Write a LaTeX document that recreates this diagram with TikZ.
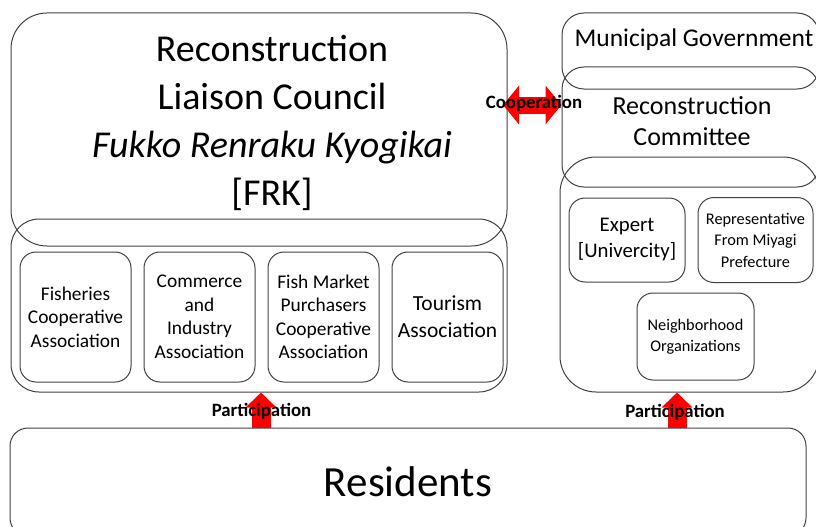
\documentclass[tikz,border=0pt]{standalone}
\usepackage{fontspec}
\setmainfont{Carlito}
\usepackage{tikz}
\usetikzlibrary{shapes.geometric, arrows}
\usetikzlibrary{arrows.meta}
\definecolor{linegray}{HTML}{404040}
\tikzstyle{panel} = [rectangle, draw=linegray, line width=1pt, inner sep=0pt]
\tikzstyle{member} = [rectangle, rounded corners=16pt, draw=linegray, line width=1pt, minimum width=111pt, minimum height=130pt, inner sep=0pt, text centered, align=center, font=\fontsize{19.4}{23.5}\selectfont]
\tikzstyle{tag} = [font=\fontsize{18.8}{22}\selectfont\bfseries]
\tikzstyle{redarrow} = [red, line width=19pt, -{Triangle[length=15pt,width=30pt]}]

\begin{document}
\begin{tikzpicture}[x=1pt, y=-1pt, node distance=124pt]
\useasboundingbox (0,0) rectangle (816,527);

% council and its member associations
\node (frk) [panel, rounded corners=36pt, minimum width=496pt, minimum height=233pt] at (259,129.5) {};
\node (frktext) [align=center, font=\fontsize{38}{48}\selectfont] at (272,123) {Reconstruction\\Liaison Council\\\textit{Fukko Renraku Kyogikai}\\ {[FRK]}};
\node (assoc) [panel, rounded corners=28pt, minimum width=496pt, minimum height=173pt] at (259,305.5) {};
\node (fish) [member] at (75.5,317) {Fisheries\\Cooperative\\Association};
\node (comm) [member, right of=fish] {Commerce\\and\\Industry\\Association};
\node (market) [member, right of=comm] {Fish Market\\Purchasers\\Cooperative\\Association};
\node (tour) [member, right of=market, font=\fontsize{21.5}{27}\selectfont] {Tourism\\Association};

% municipal side
\node (muni) [panel, rounded corners=22pt, minimum width=257pt, minimum height=76pt] at (690.5,51) {};
\node (committee) [panel, rounded corners=22pt, minimum width=257pt, minimum height=120pt] at (690.5,127) {};
\node (members) [panel, rounded corners=36pt, minimum width=259pt, minimum height=235pt] at (689.5,274.5) {};
\node (munitext) [font=\fontsize{25.5}{31}\selectfont] at (694,40) {Municipal Government};
\node (comtext) [align=center, font=\fontsize{26}{31}\selectfont] at (692,121.5) {Reconstruction\\Committee};
\node (expert) [member, minimum width=116pt, minimum height=84pt, font=\fontsize{20.8}{26}\selectfont] at (627,240) {Expert\\ {[Univercity]}};
\node (pref) [member, minimum width=115pt, minimum height=85pt, font=\fontsize{16.3}{21.5}\selectfont, right of=expert, xshift=4.5pt] {Representative\\From Miyagi\\Prefecture};
\node (hood) [member, minimum width=117pt, minimum height=87pt, font=\fontsize{16.3}{21}\selectfont] at (695.5,336.5) {Neighborhood\\Organizations};

% residents
\node (res) [panel, rounded corners=18pt, minimum width=796pt, minimum height=108pt, font=\fontsize{43}{50}\selectfont] at (408,482) {Residents};

% red arrows
\coordinate (pl) at (261,0);
\coordinate (pr) at (677,0);
\coordinate (cl) at (503,105);
\draw[redarrow] (res.north -| pl) -- (assoc.south -| pl);
\draw[redarrow] (res.north -| pr) -- (members.south -| pr);
\draw[red, line width=17pt, {Triangle[length=16pt,width=38pt]}-{Triangle[length=16pt,width=38pt]}] (cl) -- (cl -| committee.west);

\node (coop) [tag] at (534,103) {Cooperation};
\node (partl) [tag] at (261.5,411) {Participation};
\node (partr) [tag] at (675,412) {Participation};
\end{tikzpicture}
\end{document}
